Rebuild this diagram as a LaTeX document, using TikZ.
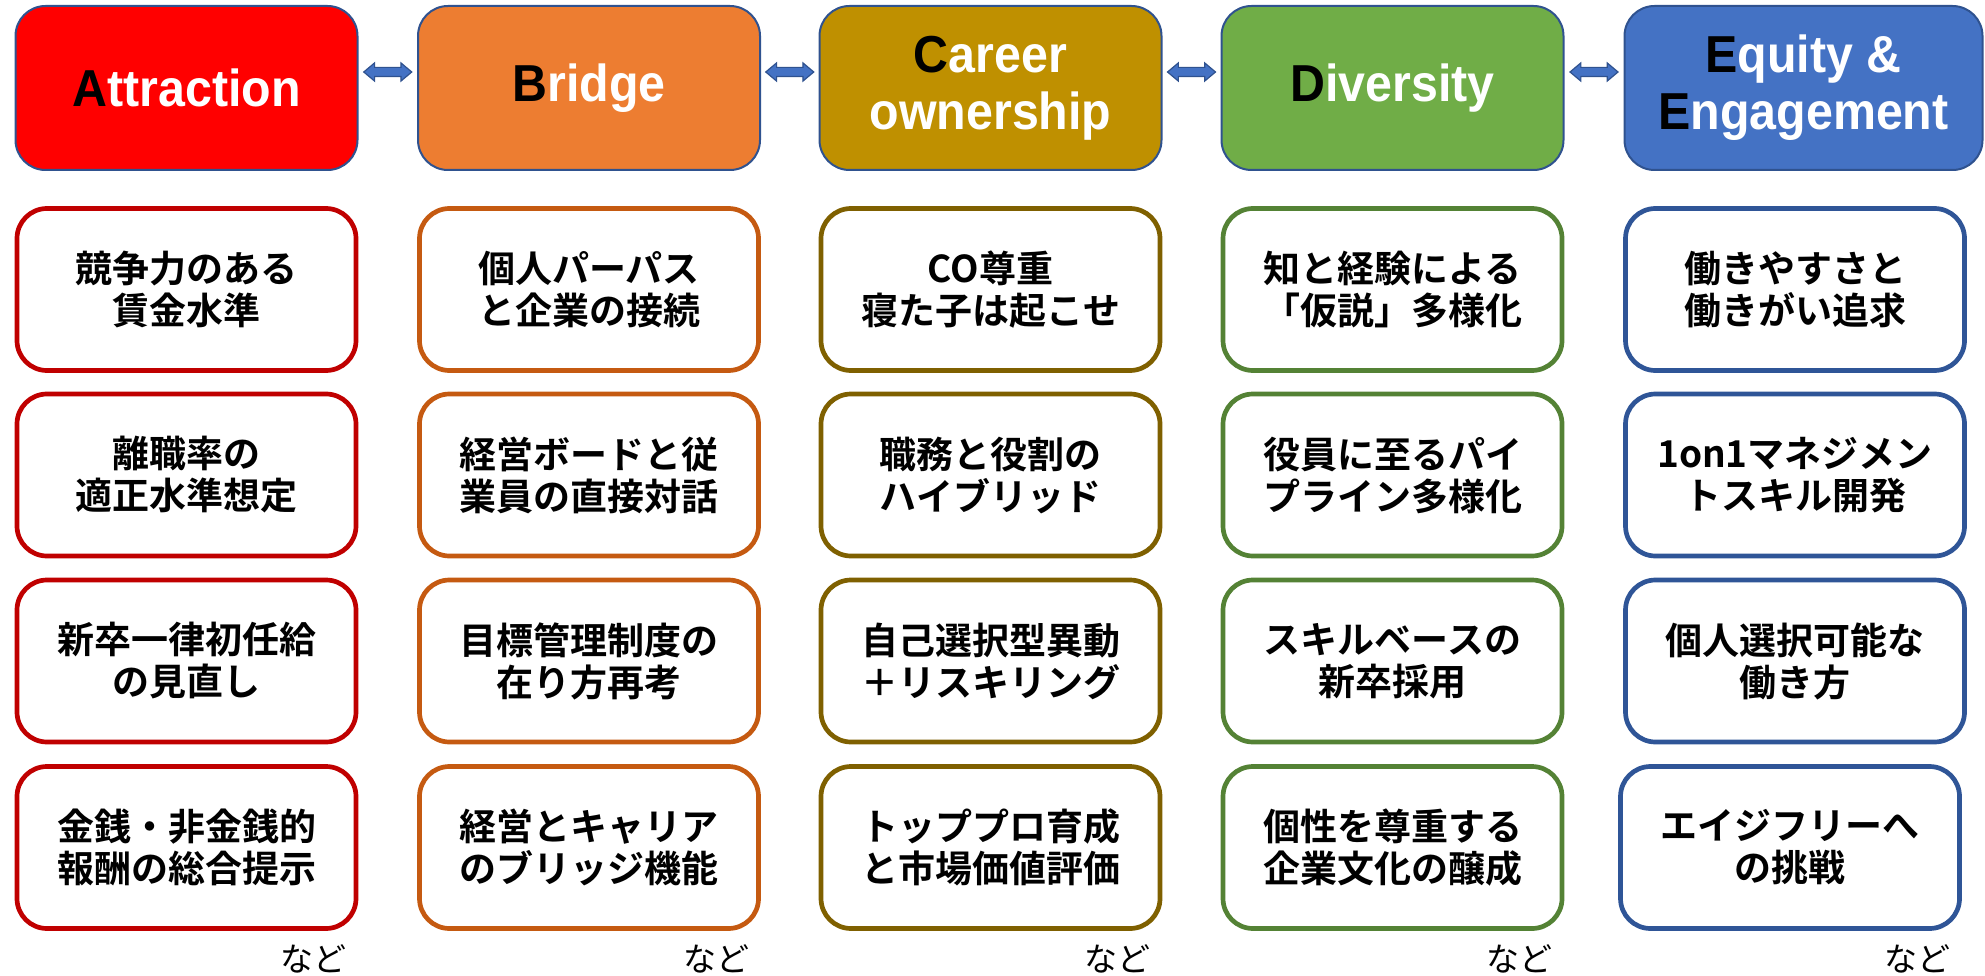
\documentclass[tikz,border=0pt]{standalone}
\usepackage{fontspec}
\usetikzlibrary{shapes.arrows,calc}
\newfontfamily\jp{Noto Sans CJK JP}
\newfontfamily\jpb{Noto Sans CJK JP Bold}
\newfontfamily\hdrf[FakeStretch=0.93]{Liberation Sans Bold}
\definecolor{cA}{HTML}{FF0000}
\definecolor{cB}{HTML}{ED7D31}
\definecolor{cC}{HTML}{BF9000}
\definecolor{cD}{HTML}{70AD47}
\definecolor{cE}{HTML}{4472C4}
\definecolor{bA}{HTML}{C00000}
\definecolor{bB}{HTML}{C55A11}
\definecolor{bC}{HTML}{7F6000}
\definecolor{bD}{HTML}{548235}
\definecolor{bE}{HTML}{2F5597}
\definecolor{hdrline}{HTML}{2F528F}
\tikzset{
  hdr/.style={draw=hdrline, line width=2pt, rounded corners=30pt, minimum height=164pt,
    minimum width=342pt, text=white, align=center, inner sep=0pt,
    font=\hdrf\fontsize{52}{57}\selectfont},
  item/.style={draw=#1, fill=white, line width=4.7pt, rounded corners=30pt, minimum height=162pt,
    minimum width=339pt, align=center, inner sep=0pt,
    font=\jpb\fontsize{37}{42}\selectfont},
  dbl/.style={double arrow, draw=hdrline, fill=cE, line width=1.2pt, minimum height=48pt,
    minimum width=17pt, inner xsep=0pt, inner ysep=4pt, double arrow head extend=4.5pt,
    double arrow tip angle=80},
  nado/.style={anchor=east, font=\jp\fontsize{33}{33}\selectfont}
}
\newcommand{\fl}[1]{\textcolor{black}{#1}}
\begin{document}
\begin{tikzpicture}[x=1pt,y=-1pt]
\useasboundingbox (0,0) rectangle (1985,976);
% headers
\node[hdr, fill=cA] (hA) at (186.5,88) {\fl{A}ttraction};
\node[hdr, fill=cB] (hB) at (589,88) {\fl{B}ridge};
\node[hdr, fill=cC] (hC) at (990.5,88) {\fl{C}areer\\ownership};
\node[hdr, fill=cD] (hD) at (1392.5,88) {\fl{D}iversity};
\node[hdr, fill=cE, minimum width=358pt] (hE) at (1803.5,88) {\fl{E}quity \&\\\fl{E}ngagement};
% arrows
\node[dbl] (ab) at ($(hA.east)!0.5!(hB.west)+(0,-16)$) {};
\node[dbl] (bc) at ($(hB.east)!0.5!(hC.west)+(0,-16)$) {};
\node[dbl] (cd) at ($(hC.east)!0.5!(hD.west)+(0,-16)$) {};
\node[dbl] (de) at ($(hD.east)!0.5!(hE.west)+(0,-16)$) {};
% column A
\node[item=bA] (a1) at (186.5,289.5) {競争力のある\\賃金水準};
\node[item=bA] (a2) at (186.5,475) {離職率の\\適正水準想定};
\node[item=bA] (a3) at (186.5,661) {新卒一律初任給\\の見直し};
\node[item=bA] (a4) at (186.5,847.5) {金銭・非金銭的\\報酬の総合提示};
% column B
\node[item=bB] (b1) at (589,289.5) {個人パーパス\\と企業の接続};
\node[item=bB] (b2) at (589,475) {経営ボードと従\\業員の直接対話};
\node[item=bB] (b3) at (589,661) {目標管理制度の\\在り方再考};
\node[item=bB] (b4) at (589,847.5) {経営とキャリア\\のブリッジ機能};
% column C
\node[item=bC] (c1) at (990.5,289.5) {CO尊重\\寝た子は起こせ};
\node[item=bC] (c2) at (990.5,475) {職務と役割の\\ハイブリッド};
\node[item=bC] (c3) at (990.5,661) {自己選択型異動\\＋リスキリング};
\node[item=bC] (c4) at (990.5,847.5) {トッププロ育成\\と市場価値評価};
% column D
\node[item=bD] (d1) at (1392.5,289.5) {知と経験による\\「仮説」多様化};
\node[item=bD] (d2) at (1392.5,475) {役員に至るパイ\\プライン多様化};
\node[item=bD] (d3) at (1392.5,661) {スキルベースの\\新卒採用};
\node[item=bD] (d4) at (1392.5,847.5) {個性を尊重する\\企業文化の醸成};
% column E
\node[item=bE] (e1) at (1795,289.5) {働きやすさと\\働きがい追求};
\node[item=bE] (e2) at (1795,475) {1on1マネジメン\\トスキル開発};
\node[item=bE] (e3) at (1795,661) {個人選択可能な\\働き方};
\node[item=bE] (e4) at (1790,847.5) {エイジフリーへ\\の挑戦};
% nado
\node[nado] (na) at ($(a4.south east)+(-8,28)$) {など};
\node[nado] (nb) at ($(b4.south east)+(-8,28)$) {など};
\node[nado] (nc) at ($(c4.south east)+(-8,28)$) {など};
\node[nado] (nd) at ($(d4.south east)+(-8,28)$) {など};
\node[nado] (ne) at ($(e4.south east)+(-8,28)$) {など};
\end{tikzpicture}
\end{document}
